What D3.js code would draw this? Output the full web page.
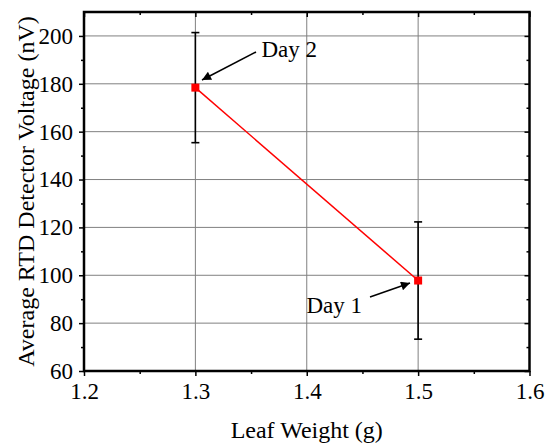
<!DOCTYPE html>
<html>
<head>
<meta charset="utf-8">
<script src="https://cdn.jsdelivr.net/npm/d3@7"></script>
<style>
  body { margin: 0; background: #fff; }
  svg text { font-family: "Liberation Serif", "Times New Roman", serif; fill: #000; }
</style>
</head>
<body>
<svg id="chart" width="546" height="445"></svg>
<script>
// data
var days = ["Day 1", "Day 2"];
var leafWeight = [1.5, 1.3];
var voltage = [97.8, 178.4];
var voltageErr = [24.5, 23];
var xTicks = [1.2, 1.3, 1.4, 1.5, 1.6];
var yTicks = [60, 80, 100, 120, 140, 160, 180, 200];

var margin = { left: 84, right: 16.5, top: 12, bottom: 74 };
var width = 546, height = 445;

var svg = d3.select("#chart");

var x = d3.scaleLinear().domain([1.2, 1.6]).range([margin.left, width - margin.right]);
var y = d3.scaleLinear().domain([60, 210]).range([height - margin.bottom, margin.top]);

var titleSize = 24;
var tickSize = 23;
var gridColor = "#808080";

// grid
svg.append("g").selectAll("line")
  .data(xTicks.slice(1, -1))
  .enter().append("line")
  .attr("x1", d => x(d)).attr("x2", d => x(d))
  .attr("y1", y(210)).attr("y2", y(60))
  .attr("stroke", gridColor).attr("stroke-width", 1);

svg.append("g").selectAll("line")
  .data(yTicks.slice(1))
  .enter().append("line")
  .attr("x1", x(1.2)).attr("x2", x(1.6))
  .attr("y1", d => y(d)).attr("y2", d => y(d))
  .attr("stroke", gridColor).attr("stroke-width", 1);

// axes: bottom/left outward, top/right inward
var minorX = d3.range(1.25, 1.6, 0.1);
var minorY = d3.range(70, 210, 20);

function styleAxis(g) {
  g.attr("font-family", "Liberation Serif").attr("font-size", tickSize);
  g.select(".domain").remove();
  g.selectAll(".tick line").attr("stroke", "#000").attr("stroke-width", 1.5);
  g.selectAll(".tick text")
    .attr("font-family", "Liberation Serif")
    .style("font-family", "Liberation Serif")
    .style("font-size", tickSize + "px");
}

svg.append("g")
  .attr("transform", `translate(0,${y(60)})`)
  .call(d3.axisBottom(x).tickValues(xTicks).tickSize(5).tickPadding(7).tickFormat(d3.format(".1f")))
  .call(styleAxis);
svg.append("g")
  .attr("transform", `translate(0,${y(60)})`)
  .call(d3.axisBottom(x).tickValues(minorX).tickSize(3).tickFormat(""))
  .call(styleAxis);

svg.append("g")
  .attr("transform", `translate(${x(1.2)},0)`)
  .call(d3.axisLeft(y).tickValues(yTicks).tickSize(5).tickPadding(6))
  .call(styleAxis);
svg.append("g")
  .attr("transform", `translate(${x(1.2)},0)`)
  .call(d3.axisLeft(y).tickValues(minorY).tickSize(3).tickFormat(""))
  .call(styleAxis);

svg.append("g")
  .attr("transform", `translate(0,${y(210)})`)
  .call(d3.axisBottom(x).tickValues(xTicks).tickSize(5).tickFormat(""))
  .call(styleAxis);
svg.append("g")
  .attr("transform", `translate(0,${y(210)})`)
  .call(d3.axisBottom(x).tickValues(minorX).tickSize(3).tickFormat(""))
  .call(styleAxis);

svg.append("g")
  .attr("transform", `translate(${x(1.6)},0)`)
  .call(d3.axisLeft(y).tickValues(yTicks).tickSize(5).tickFormat(""))
  .call(styleAxis);
svg.append("g")
  .attr("transform", `translate(${x(1.6)},0)`)
  .call(d3.axisLeft(y).tickValues(minorY).tickSize(3).tickFormat(""))
  .call(styleAxis);

// frame
svg.append("rect")
  .attr("x", x(1.2)).attr("y", y(210))
  .attr("width", x(1.6) - x(1.2)).attr("height", y(60) - y(210))
  .attr("fill", "none").attr("stroke", "#000").attr("stroke-width", 2.5);

// error bars
var pts = days.map((d, i) => ({ day: d, x: leafWeight[i], y: voltage[i], err: voltageErr[i] }));
var eb = svg.append("g").attr("stroke", "#000").attr("stroke-width", 1.6);
pts.forEach(p => {
  eb.append("line").attr("x1", x(p.x)).attr("x2", x(p.x))
    .attr("y1", y(p.y - p.err)).attr("y2", y(p.y + p.err));
  [p.y - p.err, p.y + p.err].forEach(v => {
    eb.append("line").attr("x1", x(p.x) - 4).attr("x2", x(p.x) + 4)
      .attr("y1", y(v)).attr("y2", y(v));
  });
});

// line + markers
svg.append("path")
  .datum(pts.slice().sort((a, b) => a.x - b.x))
  .attr("d", d3.line().x(d => x(d.x)).y(d => y(d.y)))
  .attr("fill", "none").attr("stroke", "#ff0000").attr("stroke-width", 1.5);

svg.append("g").selectAll("rect")
  .data(pts)
  .enter().append("rect")
  .attr("x", d => x(d.x) - 4).attr("y", d => y(d.y) - 4)
  .attr("width", 8).attr("height", 8)
  .attr("fill", "#ff0000");

// annotations
svg.append("defs").append("marker")
  .attr("id", "arrowhead")
  .attr("viewBox", "0 0 10 10")
  .attr("refX", 10).attr("refY", 5)
  .attr("markerWidth", 13).attr("markerHeight", 9)
  .attr("markerUnits", "userSpaceOnUse")
  .attr("orient", "auto")
  .append("path").attr("d", "M0,0 L10,5 L0,10 z").attr("fill", "#000");

var notes = [
  { text: "Day 2", tx: 261.5, ty: 57, from: [256, 52], to: [202, 80] },
  { text: "Day 1", tx: 306.5, ty: 313, from: [370, 297], to: [410, 283] }
];
notes.forEach(n => {
  svg.append("line")
    .attr("x1", n.from[0]).attr("y1", n.from[1])
    .attr("x2", n.to[0]).attr("y2", n.to[1])
    .attr("stroke", "#000").attr("stroke-width", 1.5)
    .attr("marker-end", "url(#arrowhead)");
  svg.append("text")
    .attr("x", n.tx).attr("y", n.ty)
    .style("font-size", "23px")
    .text(n.text);
});

// axis titles
svg.append("text")
  .attr("x", (x(1.2) + x(1.6)) / 2).attr("y", 438)
  .attr("text-anchor", "middle")
  .style("font-size", titleSize + "px")
  .text("Leaf Weight (g)");

svg.append("text")
  .attr("transform", `translate(34,${(y(60) + y(210)) / 2}) rotate(-90)`)
  .attr("text-anchor", "middle")
  .style("font-size", titleSize + "px")
  .text("Average RTD Detector Voltage (nV)");
</script>
</body>
</html>
